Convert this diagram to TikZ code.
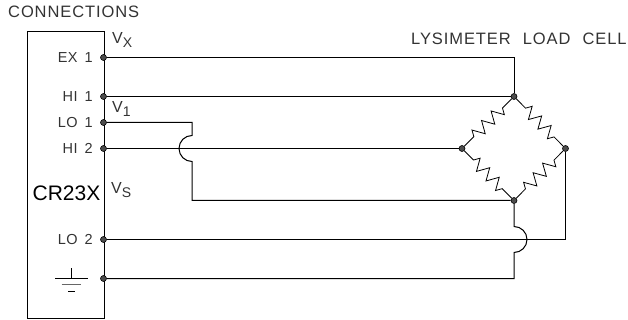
\documentclass[tikz,border=0pt]{standalone}
\usepackage{fontspec}
\setmainfont{Liberation Sans}
\newfontfamily\cadfont[LetterSpace=5.5,WordSpace=2.2]{Liberation Sans}
\newfontfamily\pinfont[LetterSpace=3,WordSpace=1.6]{Liberation Sans}
\usetikzlibrary{positioning,decorations.pathmorphing}
\newcommand{\lbl}[1]{{\fontsize{16.5}{17}\selectfont\cadfont #1}}
\newcommand{\pinlbl}[1]{{\fontsize{14.5}{15}\selectfont\pinfont #1}}
\newcommand{\volt}[2]{{\fontsize{16}{16}\selectfont #1\raisebox{-4pt}{\fontsize{14}{14}\selectfont #2}}}
\tikzset{
    wire/.style={line width=1pt},
    term/.style={circle,draw,fill=black!70,inner sep=0pt,minimum size=6pt,line width=0.6pt},
    tag/.style={inner sep=0pt,text=black!80},
    pin/.style={tag,anchor=east,at=(#1),xshift=-10.5pt},
    resistor/.style={wire,line width=0.8pt,decorate,decoration={zigzag,segment length=13.5pt,amplitude=6pt,pre length=13pt,post length=13pt}},
}
\begin{document}
\begin{tikzpicture}[x=1pt,y=-1pt,node distance=1pt,on grid]
    \useasboundingbox (0,0) rectangle (628,320);
    % logger box
    \node[draw,wire,minimum width=77pt,minimum height=286pt,inner sep=0pt,anchor=north west] (box) at (26.5,31.5) {};
    \node[inner sep=0pt] (cr23x) at (66.5,193.5) {\fontsize{21}{22}\selectfont CR23X};
    % terminals
    \node[term] (ex1) at (103.5,57.5) {};
    \node[term,below=39pt of ex1] (hi1) {};
    \node[term,below=26pt of hi1] (lo1) {};
    \node[term,below=26pt of lo1] (hi2) {};
    \node[term,below=91pt of hi2] (lo2) {};
    \node[term,below=39pt of lo2] (gnd) {};
    % bridge
    \node[term] (top) at (514,96.5) {};
    \node[term,below left=52pt and 52pt of top] (left) {};
    \node[term,below right=52pt and 51.5pt of top] (right) {};
    \node[term,below=104pt of top] (bottom) {};
    \draw[resistor] (top) -- (left);
    \draw[resistor] (right) -- (top);
    \draw[resistor] (left) -- (bottom);
    \draw[resistor] (bottom) -- (right);
    % wires
    \coordinate (s1) at (192,135.5);
    \coordinate (s2) at (514,226.5);
    \coordinate (exc) at (top |- ex1);
    \coordinate (lo1a) at (s1 |- lo1);
    \coordinate (lo1b) at (s1 |- bottom);
    \coordinate (lo2a) at (right |- lo2);
    \coordinate (gnda) at (top |- gnd);
    \draw[wire] (ex1) -- (exc) -- (top);
    \draw[wire] (hi1) -- (top);
    \draw[wire] (hi2) -- (left);
    \draw[wire] (lo1) -- (lo1a) -- (s1) arc[start angle=90,end angle=270,radius=13pt] -- (lo1b) -- (bottom);
    \draw[wire] (right) -- (lo2a) -- (lo2);
    \draw[wire] (bottom) -- (s2) arc[start angle=-90,end angle=90,radius=13pt,y radius=-13pt] -- (gnda) -- (gnd);
    % ground symbol
    \coordinate (g0) at (71.5,278.5);
    \coordinate (g1) at (71.5,268);
    \draw[wire] (g1) -- (g0);
    \draw[wire] (55,278.5) -- (87.5,278.5);
    \draw[wire,black!60,line width=1.3pt] (61.5,284.7) -- (81,284.7);
    \draw[wire] (68,291.5) -- (74.7,291.5);
    % labels
    \node[pin=ex1] (ex1l) {\pinlbl{EX 1}};
    \node[pin=hi1] (hi1l) {\pinlbl{HI 1}};
    \node[pin=lo1] (lo1l) {\pinlbl{LO 1}};
    \node[pin=hi2] (hi2l) {\pinlbl{HI 2}};
    \node[pin=lo2] (lo2l) {\pinlbl{LO 2}};
    \node[tag,anchor=west] (conn) at (8,11.5) {\lbl{CONNECTIONS}};
    \node[tag,anchor=west] (cell) at (411,38.5) {\lbl{LYSIMETER LOAD CELL}};
    \node[tag,anchor=west] (vx) at (112,40) {\volt{V}{X}};
    \node[tag,anchor=west] (v1) at (112,109) {\volt{V}{1}};
    \node[tag,anchor=west] (vs) at (111,190) {\volt{V}{S}};
\end{tikzpicture}
\end{document}
